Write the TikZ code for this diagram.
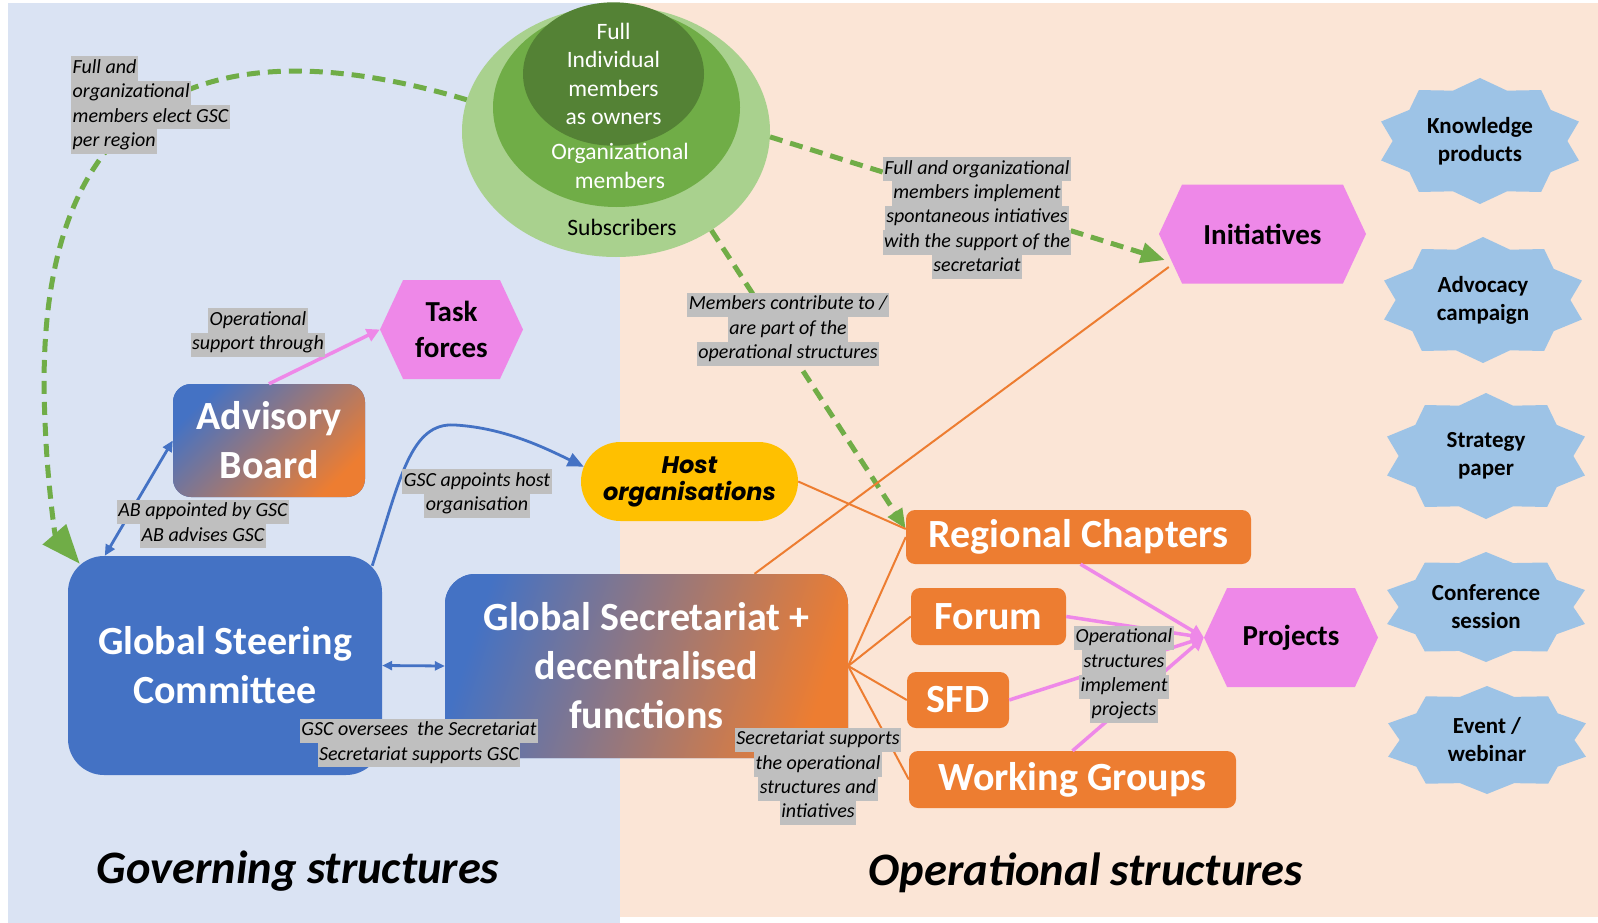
\documentclass[tikz,border=0pt]{standalone}
\usepackage{fontspec}
\setmainfont{Carlito}
\newfontfamily\hostfont{Poppins}
\usetikzlibrary{shapes.geometric,shapes.symbols,shapes.misc,arrows.meta,positioning}

\definecolor{govbg}{HTML}{DAE3F3}
\definecolor{opbg}{HTML}{FBE5D6}
\definecolor{gsblue}{HTML}{4472C4}
\definecolor{gsorange}{HTML}{ED7D31}
\definecolor{hostyellow}{HTML}{FFC000}
\definecolor{hexpink}{HTML}{EE88E8}
\definecolor{burstblue}{HTML}{9DC3E6}
\definecolor{greenlight}{HTML}{A9D18E}
\definecolor{greenmid}{HTML}{70AD47}
\definecolor{greendark}{HTML}{548235}
\definecolor{labelgray}{HTML}{BFBFBF}

% grey band behind each line of a note
\newcommand\notebg[1]{{\setlength{\fboxsep}{0pt}\colorbox{labelgray}{\strut\kern1.5pt#1\kern1.5pt}}}
% ten point star: name, x, y, x radius, y radius, text
\newcommand\burst[6]{%
  \fill[burstfill] plot[samples at={0,...,19}] ({#2+(1-0.16*mod(\x,2))*#4*cos(90+18*\x)}, {#3+(1-0.16*mod(\x,2))*#5*sin(90+18*\x)}) -- cycle;
  \node[bursttext] (#1) at (#2,#3) {#6};}

\begin{document}
\begin{tikzpicture}[x=1pt, y=-1pt,
    gscbox/.style={rectangle, rounded corners=36pt, fill=gsblue, text=white, align=center, inner sep=0pt, font=\bfseries\fontsize{40}{49}\selectfont},
    opbox/.style={rectangle, rounded corners=9pt, fill=gsorange, text=white, inner sep=0pt, minimum height=56pt, font=\bfseries\fontsize{40}{49}\selectfont},
    hexa/.style={signal, signal to=east and west, signal pointer angle=130, fill=hexpink, align=center, inner sep=0pt, minimum height=99pt, font=\bfseries\fontsize{29}{36.5}\selectfont},
    hostbox/.style={rounded rectangle, fill=hostyellow, align=center, inner sep=0pt, minimum width=217pt, minimum height=79pt, font=\hostfont\bfseries\itshape\fontsize{24}{27}\selectfont},
    member/.style={ellipse, inner sep=0pt},
    memtext/.style={align=center, inner sep=0pt, font=\fontsize{23.5}{28.3}\selectfont},
    notelabel/.style={align=center, inner sep=0pt, font=\itshape\fontsize{20}{24.4}\selectfont},
    bigtitle/.style={inner sep=0pt, font=\bfseries\itshape\fontsize{46.5}{52}\selectfont},
    burstfill/.style={fill=burstblue},
    bursttext/.style={align=center, inner sep=0pt, font=\bfseries\fontsize{23}{28}\selectfont},
    greenarrow/.style={greenmid, line width=5pt, dash pattern=on 13pt off 8pt},
    bluearrow/.style={gsblue, line width=2.8pt},
    orangeline/.style={gsorange, line width=2pt},
    pinkarrow/.style={hexpink, line width=3.5pt, -{Triangle[length=13pt,width=13pt]}}
]
    \fill[white] (0,0) rectangle (1598,923);
    \fill[govbg] (8,3) rectangle (620,923);
    \fill[opbg] (620,3) rectangle (1598,917);
    \useasboundingbox (0,0) rectangle (1598,923);

    % membership circles
    \node[member, fill=greenlight, minimum width=308pt, minimum height=251pt] (subs) at (616,131.5) {};
    \node[member, fill=greenmid, minimum width=247pt, minimum height=199pt] (orgm) at (616.5,107.5) {};
    \node[member, memtext, fill=greendark, text=white, minimum width=181pt, minimum height=128pt] (fullm) at (613.5,74) {Full\\Individual\\members\\as owners};
    \node[memtext, text=white] (orgtext) at (620,166) {Organizational\\members};
    \node[memtext] (substext) at (622,227) {Subscribers};

    % governing side
    \node[gscbox, minimum width=314pt, minimum height=219pt] (gsc) at (225,665.5) {Global Steering\\Committee};
    \node[gscbox, rounded corners=30pt, top color=gsblue, bottom color=gsorange, shading angle=72, minimum width=403pt, minimum height=184pt] (gsecr) at (646.5,666) {Global Secretariat +\\decentralised\\functions};
    \node[gscbox, rounded corners=18pt, top color=gsblue, bottom color=gsorange, shading angle=45, minimum width=192pt, minimum height=113pt] (ab) at (269,440.5) {Advisory\\Board};
    \node[hexa, minimum width=143pt] (tforces) at (451.5,329.5) {Task\\forces};
    \node[hostbox] (host) at (689.5,481.5) {Host\\organisations};

    % operational side
    \node[hexa, minimum width=207pt] (initiatives) at (1262.5,234) {Initiatives};
    \node[opbox, minimum width=345pt, minimum height=54pt] (regional) at (1078.5,537) {Regional Chapters};
    \node[opbox, minimum width=155pt, minimum height=57pt] (forum) at (988.5,616.5) {Forum};
    \node[opbox, minimum width=102pt] (sfd) at (958,700) {SFD};
    \node[opbox, minimum width=327pt, minimum height=57pt] (wg) at (1072.5,779.5) {Working Groups};
    \node[hexa, minimum width=174pt] (projects) at (1291,637.5) {Projects};

    \burst{knowledge}{1480}{141}{104}{63}{Knowledge\\products}
    \burst{advocacy}{1483}{300}{104}{63}{Advocacy\\campaign}
    \burst{strategy}{1486}{456}{104}{63}{Strategy\\paper}
    \burst{conference}{1486}{607}{104}{55}{Conference\\session}
    \burst{event}{1487}{740}{104}{54}{Event /\\webinar}

    % connectors
    \draw[greenarrow, -{Triangle[length=39pt,width=30pt]}] (subs.168) .. controls (200,20) and (30,100) .. (45,420) .. controls (47,480) and (55,535) .. ([shift={(12,8)}]gsc.north west);
    \draw[greenarrow, -{Triangle[length=24pt,width=20pt]}] (subs.-2) -- ([shift={(6,26)}]initiatives.west);
    \draw[greenarrow, -{Triangle[length=20pt,width=16pt]}] (subs.-46) -- ([yshift=8pt]regional.west);

    \draw[bluearrow, {Triangle[length=11pt,width=10pt]}-{Triangle[length=11pt,width=10pt]}] (ab.west) -- ([xshift=37pt]gsc.north west);
    \draw[bluearrow, -{Triangle[length=16pt,width=14pt]}] ([shift={(-10,10)}]gsc.north east) .. controls (400,480) and (410,422) .. (455,425) .. controls (505,428) and (545,448) .. (host.172);
    \draw[bluearrow, {Triangle[length=10pt,width=9pt]}-{Triangle[length=10pt,width=9pt]}] (gsc.east) -- (gsecr.west);

    \draw[orangeline] ([xshift=108pt]gsecr.north) -- ([shift={(10,33)}]initiatives.west);
    \draw[orangeline] (host.east) -- ([yshift=8pt]regional.west);
    \foreach \op in {regional, forum, sfd, wg}
        \draw[orangeline] (gsecr.east) -- (\op.west);

    \draw[pinkarrow] (ab.north) -- (tforces.west);
    \draw[pinkarrow] ([xshift=2pt]regional.south) -- (projects.west);
    \draw[pinkarrow] (forum.east) -- (projects.west);
    \draw[pinkarrow] (sfd.east) -- (projects.west);
    \draw[pinkarrow] (wg.north) -- (projects.west);

    % notes on the connectors
    \node[notelabel, align=left, anchor=west] (lbelect) at (71,105) {\notebg{Full and}\\\notebg{organizational}\\\notebg{members elect GSC}\\\notebg{per region}};
    \node[notelabel] (lbtask) at (258,332.5) {\notebg{Operational}\\\notebg{support through}};
    \node[notelabel] (lbab) at (203,524) {\notebg{AB appointed by GSC}\\\notebg{AB advises GSC}};
    \node[notelabel] (lbhost) at (477,493.5) {\notebg{GSC appoints host}\\\notebg{organisation}};
    \node[notelabel] (lbsec) at (419,743) {\notebg{GSC oversees\ \ the Secretariat}\\\notebg{Secretariat supports GSC}};
    \node[notelabel] (lbcontrib) at (788,329.5) {\notebg{Members contribute to /}\\\notebg{are part of the}\\\notebg{operational structures}};
    \node[notelabel] (lbinit) at (977,218) {\notebg{Full and organizational}\\\notebg{members implement}\\\notebg{spontaneous intiatives}\\\notebg{with the support of the}\\\notebg{secretariat}};
    \node[notelabel] (lbsupport) at (818,776.5) {\notebg{Secretariat supports}\\\notebg{the operational}\\\notebg{structures and}\\\notebg{intiatives}};
    \node[notelabel] (lbproj) at (1124,674.5) {\notebg{Operational}\\\notebg{structures}\\\notebg{implement}\\\notebg{projects}};

    \node[bigtitle] (govtitle) at (298,871) {Governing structures};
    \node[bigtitle] (optitle) at (1086,873) {Operational structures};
\end{tikzpicture}
\end{document}
